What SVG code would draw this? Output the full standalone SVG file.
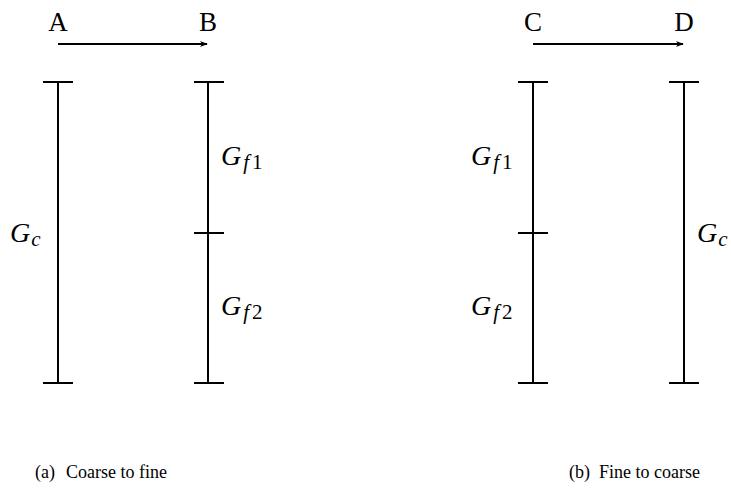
<svg xmlns="http://www.w3.org/2000/svg" width="731" height="502" viewBox="0 0 731 502">
<style>
.bar{stroke:#000;stroke-width:2;fill:none}
.lbl{font-family:"Liberation Serif","DejaVu Serif",serif;font-size:27px;fill:#000}
.m{font-family:"Liberation Serif","DejaVu Serif",serif;font-style:italic;font-size:28px;fill:#000}
.s{font-size:21px}
.up{font-style:normal}
.cap{font-family:"Liberation Serif","DejaVu Serif",serif;font-size:18px;fill:#000}
</style>
<defs>
<marker id="ah" viewBox="0 0 10 10" refX="9" refY="5" markerWidth="8" markerHeight="8" orient="auto" markerUnits="userSpaceOnUse">
<path d="M0,1 L10,5 L0,9 L3,5 Z" fill="#000"/>
</marker>
</defs>
<g id="connectors">
<line x1="58" y1="44" x2="207" y2="44" stroke="#000" stroke-width="2" marker-end="url(#ah)"/>
<line x1="533" y1="44" x2="683" y2="44" stroke="#000" stroke-width="2" marker-end="url(#ah)"/>
</g>
<g id="A"><text class="lbl" x="58" y="31" text-anchor="middle">A</text></g>
<g id="B"><text class="lbl" x="208" y="31" text-anchor="middle">B</text></g>
<g id="C"><text class="lbl" x="533" y="31" text-anchor="middle">C</text></g>
<g id="D"><text class="lbl" x="684" y="31" text-anchor="middle">D</text></g>
<g id="barGc-left">
<path class="bar" d="M58,82 V383 M43,82 H73 M43,383 H73"/>
<text class="m" x="10" y="242">G<tspan class="s" dx="1" dy="4">c</tspan></text>
</g>
<g id="barGf-left">
<path class="bar" d="M208,82 V383 M194,82 H224 M194,233 H224 M194,383 H224"/>
<text class="m" x="221" y="165">G<tspan class="s" dx="2" dy="4">f</tspan><tspan class="s up" dx="3">1</tspan></text>
<text class="m" x="221" y="315">G<tspan class="s" dx="2" dy="4">f</tspan><tspan class="s up" dx="3">2</tspan></text>
</g>
<g id="barGf-right">
<path class="bar" d="M533,82 V383 M518,82 H548 M518,233 H548 M518,383 H548"/>
<text class="m" x="471" y="165">G<tspan class="s" dx="2" dy="4">f</tspan><tspan class="s up" dx="3">1</tspan></text>
<text class="m" x="471" y="315">G<tspan class="s" dx="2" dy="4">f</tspan><tspan class="s up" dx="3">2</tspan></text>
</g>
<g id="barGc-right">
<path class="bar" d="M684,82 V383 M669,82 H699 M669,383 H699"/>
<text class="m" x="697" y="242">G<tspan class="s" dx="1" dy="4">c</tspan></text>
</g>
<g id="captions">
<text class="cap" x="35" y="478">(a)<tspan x="66">Coarse to fine</tspan></text>
<text class="cap" x="569" y="478">(b)<tspan x="599">Fine to coarse</tspan></text>
</g>
</svg>
